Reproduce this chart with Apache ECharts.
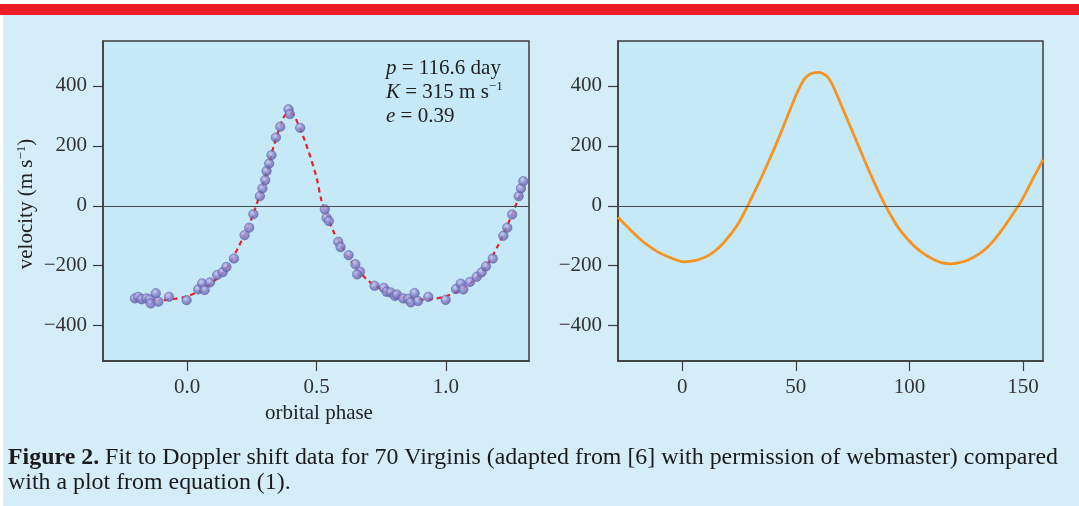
<!DOCTYPE html>
<html>
<head>
<meta charset="utf-8">
<script src="https://cdn.jsdelivr.net/npm/echarts@6/dist/echarts.min.js"></script>
<style>
  html, body { margin: 0; padding: 0; background: #ffffff; }
  #chart { width: 1079px; height: 506px; }
</style>
</head>
<body>
<div id="chart"></div>
<script>
// left panel: observed Doppler velocities vs orbital phase
const obsPhase = [-0.202, -0.189, -0.176, -0.157, -0.144, -0.141, -0.121, -0.111, -0.070, -0.002,
  0.043, 0.058, 0.068, 0.088, 0.116, 0.137, 0.152, 0.181, 0.222, 0.240, 0.256, 0.281, 0.291,
  0.302, 0.307, 0.317, 0.326, 0.343, 0.360, 0.392, 0.397, 0.437, 0.532, 0.539, 0.548, 0.584,
  0.593, 0.624, 0.650, 0.668, 0.657, 0.724, 0.760, 0.771, 0.786, 0.803, 0.810, 0.835, 0.854,
  0.864, 0.879, 0.892, 0.932, 0.999, 1.039, 1.057, 1.067, 1.093, 1.119, 1.138, 1.155, 1.181,
  1.222, 1.237, 1.256, 1.281, 1.290, 1.299];
const obsVel = [-309, -304, -312, -309, -312, -326, -292, -320, -304, -315,
  -279, -259, -281, -256, -231, -222, -204, -176, -98, -73, -28, 32, 58,
  86, 116, 141, 169, 228, 264, 322, 306, 260, -12, -40, -51, -120,
  -138, -165, -195, -220, -229, -267, -274, -287, -289, -301, -296, -309, -311,
  -322, -291, -318, -304, -314, -278, -260, -279, -254, -237, -222, -202, -176,
  -100, -73, -29, 32, 58, 82];

// left panel: fitted curve (red dashed)
const fitPhase = [-0.125, -0.09, -0.05, 0.0, 0.05, 0.10, 0.15, 0.20, 0.25, 0.30, 0.335, 0.37, 0.39,
  0.41, 0.43, 0.46, 0.50, 0.52, 0.565, 0.60, 0.643, 0.70, 0.75, 0.80, 0.85, 0.90, 0.95, 1.0,
  1.05, 1.10, 1.15, 1.20, 1.25, 1.29];
const fitVel = [-316, -315, -311, -302, -283, -254, -210, -135, -40, 90, 200, 290, 310,
  305, 270, 205, 95, 15, -85, -140, -195, -250, -278, -296, -308, -313, -311, -302,
  -283, -254, -210, -135, -40, 45];

// right panel: curve from equation (1), velocity vs time (days)
const modelDay = [-28.3, -25, -21, -18, -15, -11, -7.5, -4, 0.5, 4, 7, 11, 14.5, 18, 22, 25, 28.8,
  32, 35, 38, 41, 44, 47, 50, 52, 54, 56, 58, 60, 62, 64, 66, 68, 71, 74, 77, 80, 83, 86, 89,
  92, 95, 99, 102.5, 106, 110, 114, 118, 122, 126, 130, 133.5, 137, 140.5, 144, 148, 151, 154,
  156.5, 158.8];
const modelVel = [-38, -64, -94, -115, -133, -153, -166, -177, -187, -185, -180, -168, -150, -125,
  -88, -55, 0, 50, 97, 148, 200, 255, 312, 368, 400, 425, 438, 444, 445, 441, 430, 405, 372,
  318, 264, 210, 156, 103, 53, 7, -35, -72, -110, -137, -158, -177, -190, -194, -190, -180,
  -164, -144, -117, -83, -45, 0, 40, 85, 120, 154];

const velTicks = [-400, -200, 0, 200, 400];
const phaseTicks = [0, 0.5, 1.0];
const dayTicks = [0, 50, 100, 150];

const pair = (xs, ys) => xs.map((x, i) => [x, ys[i]]);

const serif = '"Liberation Serif", "DejaVu Serif", serif';
const ink = '#333333';
const frame = '#3d3d3d';
const minus = v => (v < 0 ? '\u2212' + Math.abs(v) : String(v));

function yAxisFor(gridIndex) {
  return {
    type: 'value', gridIndex, min: -518, max: 550,
    splitLine: { show: false },
    axisLine: { show: true, onZero: false, lineStyle: { color: frame, width: 1.5 } },
    axisTick: { show: true, length: 10, customValues: velTicks, lineStyle: { color: frame, width: 1.2 } },
    axisLabel: { customValues: velTicks, formatter: minus, margin: 16, color: ink, fontFamily: serif, fontSize: 21 }
  };
}

function xAxisFor(gridIndex, min, max, ticks, fmt) {
  return {
    type: 'value', gridIndex, min, max,
    splitLine: { show: false },
    axisLine: { show: true, onZero: false, lineStyle: { color: frame, width: 1.5 } },
    axisTick: { show: true, length: 10, customValues: ticks, lineStyle: { color: frame, width: 1.2 } },
    axisLabel: { customValues: ticks, formatter: fmt, margin: 16, color: ink, fontFamily: serif, fontSize: 21 }
  };
}

const zeroLine = {
  silent: true, symbol: 'none', label: { show: false },
  lineStyle: { color: '#4a4a4a', width: 1.2, type: 'solid' },
  data: [{ yAxis: 0 }]
};

const gridBox = { show: true, backgroundColor: '#c6e9f8', borderColor: frame, borderWidth: 1.5 };

const chart = echarts.init(document.getElementById('chart'), null, { renderer: 'canvas' });
chart.setOption({
  animation: false,
  backgroundColor: '#ffffff',
  grid: [
    Object.assign({ left: 103, top: 41, width: 426, height: 320 }, gridBox),
    Object.assign({ left: 618, top: 41, width: 425, height: 320 }, gridBox)
  ],
  xAxis: [
    xAxisFor(0, -0.325, 1.321, phaseTicks, v => v.toFixed(1)),
    xAxisFor(1, -28.3, 158.8, dayTicks, v => String(v))
  ],
  yAxis: [yAxisFor(0), yAxisFor(1)],
  graphic: [
    { type: 'rect', z: -10, shape: { x: 0, y: 0, width: 1079, height: 506 }, style: { fill: '#d5edf9' } },
    { type: 'rect', z: -9, shape: { x: 0, y: 0, width: 1079, height: 4 }, style: { fill: '#ffffff' } },
    { type: 'rect', z: -9, shape: { x: 0, y: 0, width: 3, height: 506 }, style: { fill: '#ffffff' } },
    { type: 'rect', z: -9, shape: { x: 0, y: 4, width: 1079, height: 11 }, style: { fill: '#ec1c24' } },
    {
      type: 'text', left: 386, top: 56, z: 50,
      style: {
        text: '{i|p} = 116.6 day\n{i|K} = 315 m s{s|\u22121}\n{i|e} = 0.39',
        fill: '#222', font: '21px ' + serif, lineHeight: 24,
        rich: {
          i: { fontStyle: 'italic', fontFamily: serif, fontSize: 21 },
          s: { fontSize: 13, fontFamily: serif, verticalAlign: 'top', lineHeight: 24 }
        }
      }
    },
    {
      type: 'text', x: 26, y: 204, rotation: Math.PI / 2, z: 50,
      style: {
        text: 'velocity (m s{s|\u22121})', fill: '#222', font: '21px ' + serif,
        align: 'center', verticalAlign: 'middle',
        rich: { s: { fontSize: 13, fontFamily: serif, verticalAlign: 'top' } }
      }
    },
    {
      type: 'text', x: 319, y: 403, z: 50,
      style: { text: 'orbital phase', fill: '#222', font: '21px ' + serif, align: 'center' }
    },
    {
      type: 'text', left: 8, top: 445, z: 50,
      style: {
        text: '{b|Figure 2.} Fit to Doppler shift data for 70 Virginis (adapted from [6] with permission of webmaster) compared\nwith a plot from equation (1).',
        fill: '#1a1a1a', font: '23.9px ' + serif, lineHeight: 25,
        rich: { b: { fontWeight: 'bold', fontFamily: serif, fontSize: 23.9 } }
      }
    }
  ],
  series: [
    {
      type: 'line', xAxisIndex: 0, yAxisIndex: 0, data: pair(fitPhase, fitVel),
      showSymbol: false, smooth: 0.3, z: 2,
      lineStyle: { color: '#e8202a', width: 2.2, type: [5, 4] },
      markLine: zeroLine
    },
    {
      type: 'scatter', xAxisIndex: 0, yAxisIndex: 0, data: pair(obsPhase, obsVel),
      symbolSize: 9.5, z: 3,
      itemStyle: {
        color: {
          type: 'radial', x: 0.4, y: 0.35, r: 0.7,
          colorStops: [{ offset: 0, color: '#c9c8f0' }, { offset: 0.45, color: '#8683c9' }, { offset: 1, color: '#5b57a3' }]
        },
        borderColor: '#5a569e', borderWidth: 0.6
      }
    },
    {
      type: 'line', xAxisIndex: 1, yAxisIndex: 1, data: pair(modelDay, modelVel),
      showSymbol: false, smooth: 0.25, z: 2,
      lineStyle: { color: '#f7931e', width: 2.8 },
      markLine: zeroLine
    }
  ]
});
</script>
</body>
</html>
